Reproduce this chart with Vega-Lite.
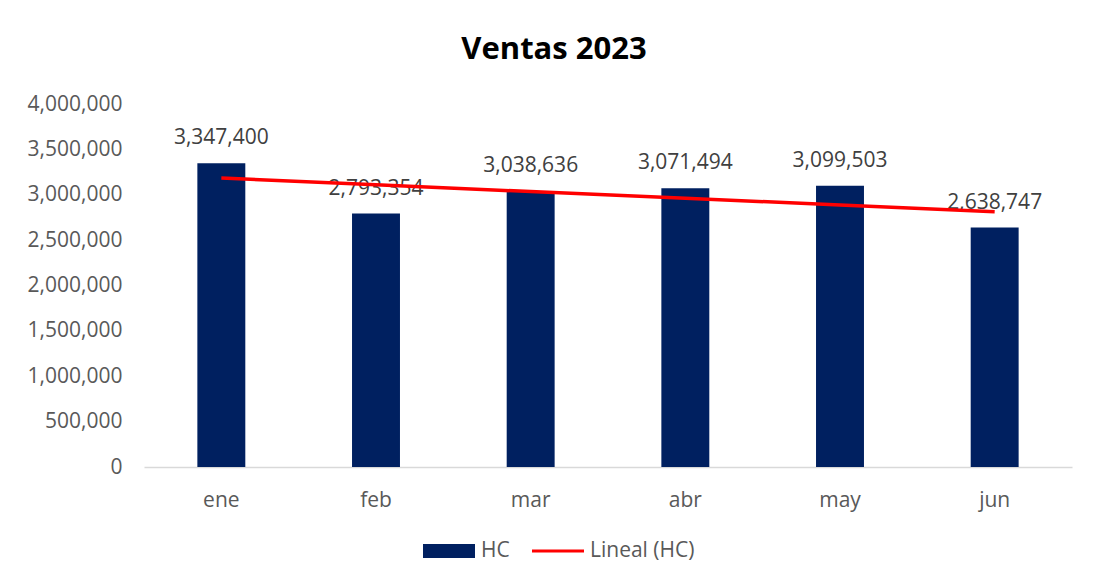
{
  "$schema": "https://vega.github.io/schema/vega-lite/v6.json",
  "autosize": "none",
  "width": 928,
  "height": 363,
  "padding": {"left": 144, "top": 104, "right": 21, "bottom": 119},
  "background": "white",
  "config": {
    "font": "Open Sans",
    "view": {"stroke": null}
  },
  "title": {
    "text": "Ventas 2023",
    "font": "Open Sans",
    "fontSize": 31,
    "fontWeight": "bold",
    "color": "#000000",
    "anchor": "middle",
    "dx": -54,
    "offset": 27
  },
  "data": {
    "values": [
      {"mes": "ene", "HC": 3347400, "trend": 3183329},
      {"mes": "feb", "HC": 2793354, "trend": 3109273},
      {"mes": "mar", "HC": 3038636, "trend": 3035217},
      {"mes": "abr", "HC": 3071494, "trend": 2961161},
      {"mes": "may", "HC": 3099503, "trend": 2887105},
      {"mes": "jun", "HC": 2638747, "trend": 2813049}
    ]
  },
  "encoding": {
    "x": {
      "field": "mes",
      "type": "nominal",
      "sort": null,
      "scale": {"paddingInner": 0.69, "paddingOuter": 0.345},
      "axis": {
        "title": null,
        "labelAngle": 0,
        "labelFontSize": 21,
        "labelColor": "#595959",
        "labelPadding": 22,
        "ticks": false,
        "domainColor": "#d9d9d9",
        "domainWidth": 1.5,
        "grid": false
      }
    }
  },
  "layer": [
    {
      "mark": {"type": "bar", "color": "#002060"},
      "encoding": {
        "y": {
          "field": "HC",
          "type": "quantitative",
          "scale": {"domain": [0, 4000000]},
          "axis": {
            "title": null,
            "values": [0, 500000, 1000000, 1500000, 2000000, 2500000, 3000000, 3500000, 4000000],
            "format": ",d",
            "labelFontSize": 21,
            "labelColor": "#595959",
            "labelPadding": 22,
            "ticks": false,
            "domain": false,
            "grid": false
          }
        },
        "color": {
          "datum": "HC",
          "type": "nominal",
          "scale": {"domain": ["HC", "Lineal (HC)"], "range": ["#002060", "#ff0000"]},
          "legend": {
            "title": null,
            "orient": "none",
            "direction": "horizontal",
            "legendX": 279,
            "legendY": 421,
            "labelFontSize": 21,
            "labelColor": "#595959",
            "symbolSize": 2704,
            "columnPadding": 22,
            "labelOffset": 6,
            "encode": {
              "symbols": {
                "update": {
                  "shape": {"signal": "datum.value === 'HC' ? 'M-1,-0.27H1V0.27H-1Z' : 'M-1,-0.06H1V0.06H-1Z'"},
                  "fill": {"signal": "datum.value === 'HC' ? '#002060' : '#ff0000'"},
                  "stroke": {"value": "transparent"},
                  "strokeWidth": {"value": 0},
                  "fillOpacity": {"value": 1}
                }
              }
            }
          }
        }
      }
    },
    {
      "mark": {"type": "text", "baseline": "middle", "dy": -25, "fontSize": 21, "color": "#404040"},
      "encoding": {
        "y": {"field": "HC", "type": "quantitative"},
        "text": {"field": "HC", "type": "quantitative", "format": ",d"}
      }
    },
    {
      "mark": {"type": "line", "color": "#ff0000", "strokeWidth": 3.5},
      "encoding": {
        "y": {"field": "trend", "type": "quantitative"},
        "color": {"datum": "Lineal (HC)", "type": "nominal"}
      }
    }
  ]
}
